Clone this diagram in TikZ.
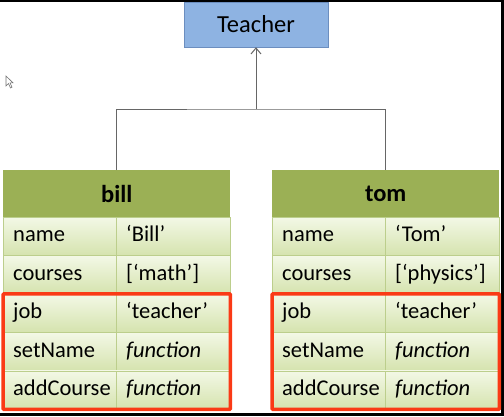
\documentclass[tikz,border=0pt]{standalone}
\usepackage{fontspec}
\setmainfont{Carlito}
\usetikzlibrary{arrows.meta}
\definecolor{teacherblue}{RGB}{142,179,226}
\definecolor{teacherline}{RGB}{108,142,191}
\definecolor{headgreen}{RGB}{155,176,85}
\definecolor{headline}{RGB}{128,148,68}
\definecolor{celltop}{RGB}{243,248,230}
\definecolor{cellbottom}{RGB}{213,227,174}
\definecolor{cellline}{RGB}{188,206,140}
\definecolor{markred}{RGB}{250,58,22}
\tikzset{
  cls/.style={draw=teacherline, fill=teacherblue, minimum width=144pt, minimum height=45pt,
    inner sep=0pt, font=\fontsize{24.5}{28}\selectfont},
  head/.style={fill=headgreen, anchor=north west, minimum width=227pt, minimum height=47pt,
    inner sep=0pt, font=\fontsize{24.5}{28}\selectfont\bfseries},
  cell/.style={draw=cellline, top color=celltop, bottom color=cellbottom, anchor=north west,
    text width=#1, inner xsep=10pt, inner ysep=0pt, minimum height=38.4pt, align=left,
    text height=15pt, text depth=4pt, font=\fontsize{22.5}{26}\selectfont},
  link/.style={draw=black!60, line width=1pt},
  redframe/.style={draw=markred, line width=3.5pt, rounded corners=1pt},
}
\begin{document}
\begin{tikzpicture}[x=1pt, y=-1pt]
  \useasboundingbox (0,0) rectangle (504,416);
  % screen edges
  \fill (0,0) rectangle (504,1.5);
  \fill (501,0) rectangle (504,416);
  \fill (0,413) rectangle (504,416);
  % mouse pointer
  \draw[black!55, fill=white, line width=0.6pt]
    (6,76) -- (6,86) -- (8.5,83.5) -- (10.5,88) -- (12,87.2) -- (10,82.8) -- (13,82.8) -- cycle;

  \node[cls] (teacher) at (256,24.5) {Teacher};

  \foreach \obj/\x/\nm/\crs in {bill/3/Bill/math, tom/272/Tom/physics} {
    \node[head] (\obj-h) at (\x,170) {\obj};
    \draw[headline, line width=1pt] (\obj-h.south west) -- (\obj-h.south east);
    \foreach \i/\key/\val in {1/name/‘\nm’, 2/courses/[‘\crs’], 3/job/‘teacher’,
                              4/setName/\textit{function}, 5/addCourse/\textit{function}} {
      \node[cell=93pt] (\obj-k\i) at (\x,{217+38.4*(\i-1)}) {\key};
      \node[cell=94pt] (\obj-v\i) at ({\x+113},{217+38.4*(\i-1)}) {\val};
    }
    \draw[redframe] (\obj-k3.north west) rectangle (\obj-v5.south east);
  }

  \coordinate (fork) at (256,109);
  \draw[link, -{Straight Barb[length=6pt,width=10pt]}] (fork) -- (teacher.south);
  \draw[link] (bill-h.north) |- (fork) -| (tom-h.north);
\end{tikzpicture}
\end{document}
